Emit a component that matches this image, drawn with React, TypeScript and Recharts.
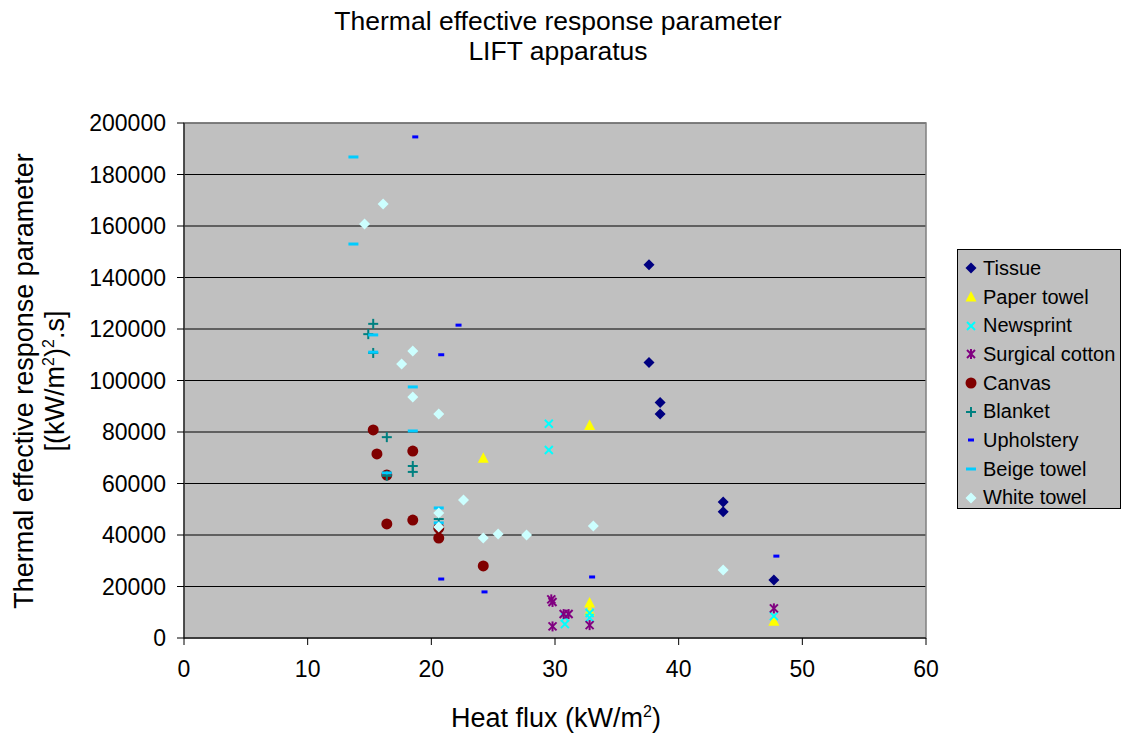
import React from 'react';
import { ScatterChart, Scatter, XAxis, YAxis, CartesianGrid, ReferenceArea } from 'recharts';

// values (x = heat flux kW/m2, y = thermal response parameter)
const tissue = [
  { x: 37.6, y: 145000 }, { x: 37.6, y: 107000 }, { x: 38.5, y: 91500 }, { x: 38.5, y: 87000 },
  { x: 43.6, y: 52800 }, { x: 43.6, y: 49000 }, { x: 47.7, y: 22500 },
];
const paperTowel = [
  { x: 24.2, y: 69800 }, { x: 32.8, y: 82500 }, { x: 32.8, y: 13600 }, { x: 32.8, y: 10500 }, { x: 47.7, y: 6500 },
];
const newsprint = [
  { x: 29.5, y: 83200 }, { x: 29.5, y: 73000 }, { x: 30.8, y: 8000 }, { x: 30.8, y: 5400 },
  { x: 32.8, y: 9700 }, { x: 32.8, y: 7800 }, { x: 47.7, y: 8500 },
];
const surgicalCotton = [
  { x: 29.7, y: 15000 }, { x: 29.8, y: 14000 }, { x: 29.8, y: 4500 }, { x: 30.7, y: 9300 },
  { x: 31.1, y: 9300 }, { x: 32.8, y: 5000 }, { x: 47.7, y: 11500 },
];
const canvas = [
  { x: 15.3, y: 80800 }, { x: 15.6, y: 71500 }, { x: 18.5, y: 72600 }, { x: 16.4, y: 63300 },
  { x: 16.4, y: 44300 }, { x: 18.5, y: 45800 }, { x: 20.6, y: 42700 }, { x: 20.6, y: 38800 }, { x: 24.2, y: 28000 },
];
const blanket = [
  { x: 15.3, y: 122000 }, { x: 14.9, y: 118000 }, { x: 15.3, y: 110700 }, { x: 16.4, y: 78000 },
  { x: 18.5, y: 66800 }, { x: 18.5, y: 64500 }, { x: 16.4, y: 63000 }, { x: 20.6, y: 46200 },
];
const upholstery = [
  { x: 18.7, y: 194600 }, { x: 22.2, y: 121500 }, { x: 20.8, y: 110000 }, { x: 20.8, y: 22900 },
  { x: 24.3, y: 17900 }, { x: 33.0, y: 23700 }, { x: 47.9, y: 31800 },
];
const beigeTowel = [
  { x: 13.7, y: 186800 }, { x: 13.7, y: 153000 }, { x: 15.3, y: 117700 }, { x: 15.3, y: 111000 },
  { x: 18.5, y: 97500 }, { x: 18.5, y: 80400 }, { x: 16.4, y: 64100 }, { x: 20.6, y: 50500 }, { x: 20.6, y: 44700 },
];
const whiteTowel = [
  { x: 16.1, y: 168500 }, { x: 14.6, y: 160800 }, { x: 18.5, y: 111500 }, { x: 17.6, y: 106400 },
  { x: 18.5, y: 93600 }, { x: 20.6, y: 87000 }, { x: 22.6, y: 53600 }, { x: 20.6, y: 48500 },
  { x: 20.6, y: 43100 }, { x: 24.2, y: 38800 }, { x: 25.4, y: 40400 }, { x: 27.7, y: 40000 },
  { x: 33.1, y: 43500 }, { x: 43.6, y: 26400 },
];

const xTicks = [0, 10, 20, 30, 40, 50, 60];
const yTicks = [0, 20000, 40000, 60000, 80000, 100000, 120000, 140000, 160000, 180000, 200000];

const series = [
  { name: 'Tissue', data: tissue, color: '#000080', kind: 'diamond' },
  { name: 'Paper towel', data: paperTowel, color: '#FFFF00', kind: 'triangle' },
  { name: 'Newsprint', data: newsprint, color: '#00FFFF', kind: 'cross' },
  { name: 'Surgical cotton', data: surgicalCotton, color: '#800080', kind: 'star' },
  { name: 'Canvas', data: canvas, color: '#800000', kind: 'circle' },
  { name: 'Blanket', data: blanket, color: '#008080', kind: 'plus' },
  { name: 'Upholstery', data: upholstery, color: '#0000FF', kind: 'smalldash' },
  { name: 'Beige towel', data: beigeTowel, color: '#00CCFF', kind: 'dash' },
  { name: 'White towel', data: whiteTowel, color: '#CCFFFF', kind: 'diamond' },
];

const FONT = '"Liberation Sans", Arial, sans-serif';

const marker = (kind: string, color: string, cx: number, cy: number) => {
  switch (kind) {
    case 'diamond':
      return <polygon points={`${cx},${cy - 5.5} ${cx + 5.5},${cy} ${cx},${cy + 5.5} ${cx - 5.5},${cy}`} fill={color} />;
    case 'triangle':
      return <polygon points={`${cx},${cy - 6} ${cx + 5.5},${cy + 4.5} ${cx - 5.5},${cy + 4.5}`} fill={color} />;
    case 'cross':
      return (
        <g stroke={color} strokeWidth={2}>
          <line x1={cx - 4} y1={cy - 4} x2={cx + 4} y2={cy + 4} />
          <line x1={cx - 4} y1={cy + 4} x2={cx + 4} y2={cy - 4} />
        </g>
      );
    case 'star':
      return (
        <g stroke={color} strokeWidth={2}>
          <line x1={cx - 4} y1={cy - 4} x2={cx + 4} y2={cy + 4} />
          <line x1={cx - 4} y1={cy + 4} x2={cx + 4} y2={cy - 4} />
          <line x1={cx} y1={cy - 5} x2={cx} y2={cy + 5} />
        </g>
      );
    case 'circle':
      return <circle cx={cx} cy={cy} r={5.5} fill={color} />;
    case 'plus':
      return (
        <g stroke={color} strokeWidth={2}>
          <line x1={cx - 5} y1={cy} x2={cx + 5} y2={cy} />
          <line x1={cx} y1={cy - 5} x2={cx} y2={cy + 5} />
        </g>
      );
    case 'smalldash':
      return <rect x={cx - 3} y={cy - 1.5} width={6} height={3} fill={color} />;
    default:
      return <rect x={cx - 5} y={cy - 1.5} width={10} height={3} fill={color} />;
  }
};

const Legend = () => (
  <div
    style={{
      position: 'absolute', left: 957, top: 249, width: 164, height: 260,
      background: '#C0C0C0', border: '1px solid #000', boxSizing: 'border-box',
      paddingTop: 4, fontFamily: FONT, fontSize: 20,
    }}
  >
    {series.map((s) => (
      <div key={s.name} style={{ display: 'flex', alignItems: 'center', height: 28.7 }}>
        <svg width={22} height={16} style={{ marginLeft: 2 }}>
          {marker(s.kind, s.color, 11, 8)}
        </svg>
        <span style={{ marginLeft: 1, whiteSpace: 'nowrap' }}>{s.name}</span>
      </div>
    ))}
  </div>
);

const sup = { fontSize: 16, verticalAlign: 'super', lineHeight: 0 } as const;

export default function App() {
  return (
    <div style={{ position: 'absolute', left: 0, top: 0, width: 1123, height: 741, background: '#fff', fontFamily: FONT }}>
      <div style={{ position: 'absolute', left: 0, top: 6, width: 1116, textAlign: 'center', fontSize: 26.5, lineHeight: '30px' }}>
        Thermal effective response parameter
        <br />
        LIFT apparatus
      </div>
      <ScatterChart width={1123} height={741} margin={{ top: 123, right: 197, bottom: 53, left: 84 }}>
        <CartesianGrid vertical={false} stroke="#000" fill="#C0C0C0" />
        <ReferenceArea x1={0} x2={60} y1={0} y2={200000} fill="none" stroke="#808080" strokeWidth={1.5} ifOverflow="visible" />
        <XAxis
          type="number" dataKey="x" domain={[0, 60]} ticks={xTicks} height={50}
          stroke="#000" tickSize={7} tick={{ fill: '#000', fontSize: 23, fontFamily: FONT }} tickMargin={16}
        />
        <YAxis
          type="number" dataKey="y" domain={[0, 200000]} ticks={yTicks} width={100}
          stroke="#000" tickSize={7} tick={{ fill: '#000', fontSize: 23, fontFamily: FONT }} tickMargin={11}
        />
        {series.map((s) => (
          <Scatter
            key={s.name}
            name={s.name}
            data={s.data}
            isAnimationActive={false}
            shape={(p: any) => marker(s.kind, s.color, p.cx, p.cy)}
          />
        ))}
      </ScatterChart>
      <div style={{ position: 'absolute', left: 0, top: 703, width: 1112, textAlign: 'center', fontSize: 27, lineHeight: '30px' }}>
        Heat flux (kW/m<span style={sup}>2</span>)
      </div>
      <div
        style={{
          position: 'absolute', left: 39 - 250, top: 381 - 30, width: 500, height: 60,
          transform: 'rotate(-90deg)', transformOrigin: '250px 30px',
          textAlign: 'center', fontSize: 27, lineHeight: '31px',
        }}
      >
        Thermal effective response parameter
        <br />
        [(kW/m<span style={sup}>2</span>)<span style={sup}>2</span>.s]
      </div>
      <Legend />
    </div>
  );
}
